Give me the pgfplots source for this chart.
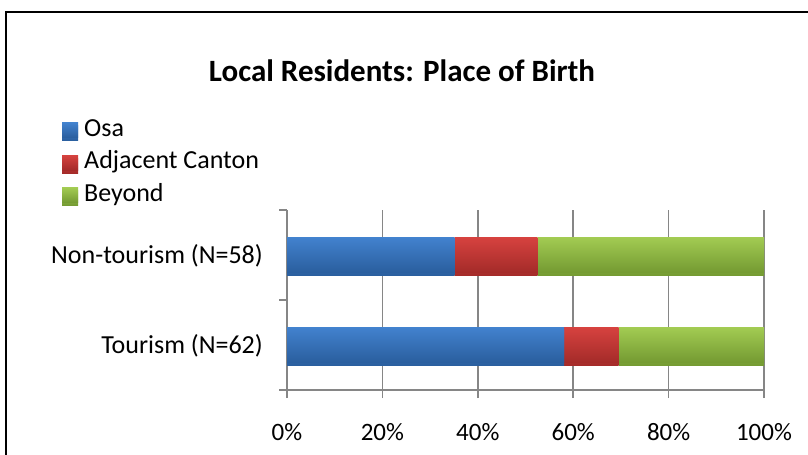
\documentclass[border=0pt]{standalone}
\usepackage{pgfplots}
\pgfplotsset{compat=1.18}
\usepackage{fontspec}
\setmainfont{Carlito}
\definecolor{osaT}{RGB}{66,130,206}
\definecolor{osaB}{RGB}{42,94,158}
\definecolor{adjT}{RGB}{214,66,63}
\definecolor{adjB}{RGB}{164,43,41}
\definecolor{beyT}{RGB}{162,203,82}
\definecolor{beyB}{RGB}{116,154,50}
\definecolor{gridgray}{RGB}{134,134,134}
\pgfplotsset{
  commonax/.style={
    at={(287bp,-390bp)}, anchor=south west,
    scale only axis, width=477bp, height=180bp,
    xbar stacked, bar width=35bp,
    xmin=0, xmax=100, ymin=-0.5, ymax=1.5,
  },
  shadowed/.style={preaction={fill=black!10, transform canvas={yshift=-3bp}}},
}
\begin{document}
\begin{tikzpicture}[x=1bp,y=1bp]
\draw[line width=2bp, black] (6,-12) rectangle (860,-500);
\begin{axis}[
  commonax,
  axis x line*=bottom, axis y line*=left,
  axis line style={draw=gridgray, line width=1.5bp, -},
  tick align=outside,
  tick style={draw=gridgray, line width=1.5bp},
  major tick length=8bp,
  xtick={0,20,40,60,80,100},
  xticklabels={0\%,20\%,40\%,60\%,80\%,100\%},
  xticklabel style={anchor=base, inner sep=0pt, yshift=-42bp, font=\fontsize{25bp}{30bp}\selectfont},
  xmajorgrids,
  major grid style={draw=gridgray, line width=1.5bp},
  ytick={-0.5,0.5,1.5}, yticklabels={},
  extra y ticks={0,1},
  extra y tick labels={Tourism (N=62),Non-tourism (N=58)},
  extra y tick style={tick style={draw=none}, yticklabel style={anchor=base east, inner sep=0pt, xshift=-16bp, yshift=-8.4bp, font=\fontsize{26bp}{30bp}\selectfont}},
  title={Local Residents: Place of Birth},
  title style={at={(axis description cs:0.2411,1.683)}, anchor=base, inner sep=0pt, font=\bfseries\fontsize{31bp}{37bp}\selectfont},
  legend style={at={(axis description cs:-0.4717,1.5278)}, anchor=north west, draw=none, fill=none, inner sep=0pt, row sep=2.5bp,
    nodes={inner sep=2bp, text height=19bp, text depth=7bp, font=\fontsize{26bp}{30bp}\selectfont},
    /tikz/every odd column/.append style={column sep=4bp}},
  legend cell align=left,
  legend image code/.code={\path[#1] (0bp,-7.5bp) rectangle (16bp,7.5bp);},
]
\addplot[draw=none, top color=osaT, bottom color=osaB, shadowed] coordinates {(58.1,0)};
\addplot[draw=none, top color=adjT, bottom color=adjB, shadowed] coordinates {(11.4,0)};
\addplot[draw=none, top color=beyT, bottom color=beyB, shadowed] coordinates {(30.5,0)};
\legend{Osa,Adjacent Canton,Beyond}
\end{axis}
\begin{axis}[commonax, hide axis]
\addplot[draw=none, top color=osaT, bottom color=osaB, shadowed] coordinates {(35.1,1)};
\addplot[draw=none, top color=adjT, bottom color=adjB, shadowed] coordinates {(17.4,1)};
\addplot[draw=none, top color=beyT, bottom color=beyB, shadowed] coordinates {(47.5,1)};
\end{axis}
\pgfresetboundingbox
\path[use as bounding box] (0,0) rectangle (808,-455);
\end{tikzpicture}
\end{document}
